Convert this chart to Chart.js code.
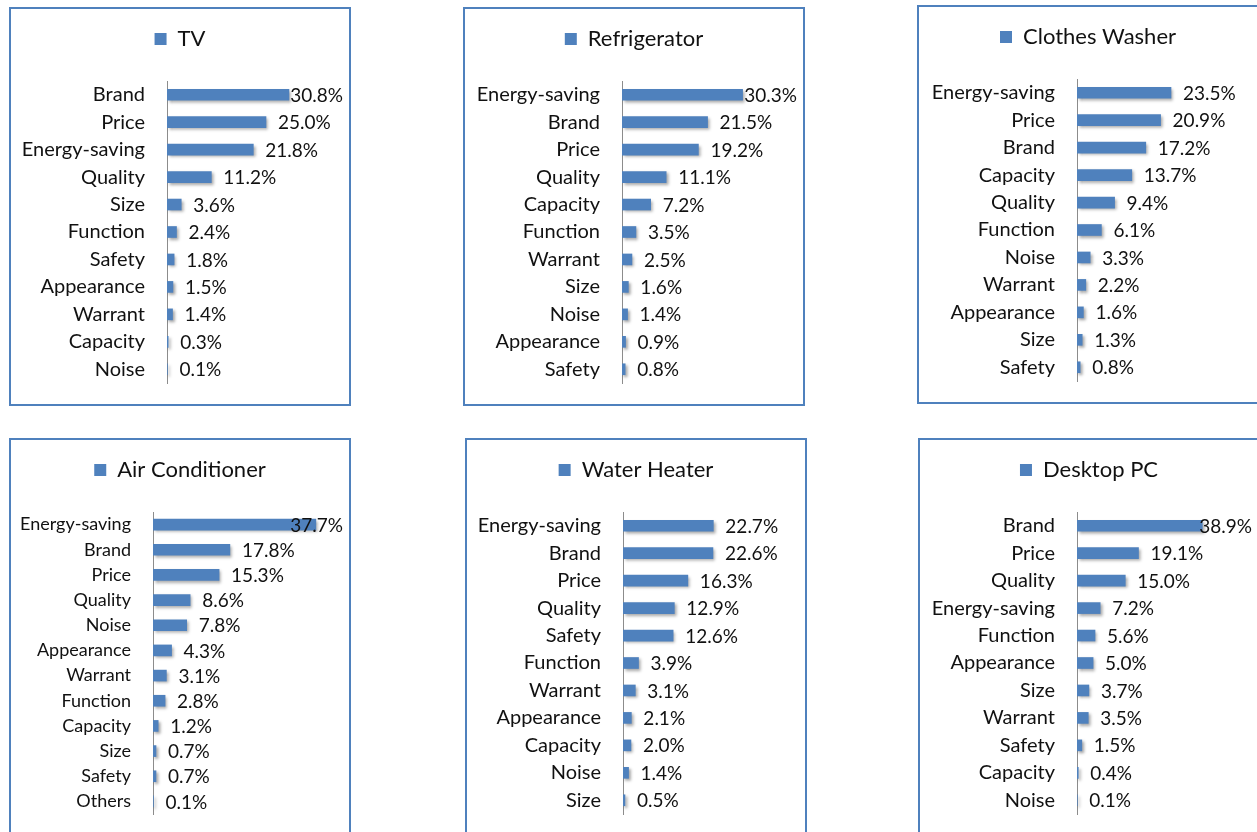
<!DOCTYPE html>
<html>
<head>
<meta charset="utf-8">
<script src="https://cdn.jsdelivr.net/npm/chart.js@4.4.1/dist/chart.umd.min.js"></script>
<style>
  body { margin: 0; background: #fff; width: 1257px; height: 832px; overflow: hidden; position: relative; }
  .panel { position: absolute; width: 342px; height: 399px; }
  .panel canvas { position: absolute; left: 0; top: 0; }
  .frame { position: absolute; left: 0; top: 0; width: 342px; height: 399px; box-sizing: border-box;
           border: 2px solid #4f81bd; pointer-events: none; }
</style>
</head>
<body>
<script>
// survey shares (%) per appliance, top to bottom as shown
const tvLabels = ['Brand', 'Price', 'Energy-saving', 'Quality', 'Size', 'Function', 'Safety', 'Appearance', 'Warrant', 'Capacity', 'Noise'];
const tvValues = [30.8, 25.0, 21.8, 11.2, 3.6, 2.4, 1.8, 1.5, 1.4, 0.3, 0.1];

const fridgeLabels = ['Energy-saving', 'Brand', 'Price', 'Quality', 'Capacity', 'Function', 'Warrant', 'Size', 'Noise', 'Appearance', 'Safety'];
const fridgeValues = [30.3, 21.5, 19.2, 11.1, 7.2, 3.5, 2.5, 1.6, 1.4, 0.9, 0.8];

const washerLabels = ['Energy-saving', 'Price', 'Brand', 'Capacity', 'Quality', 'Function', 'Noise', 'Warrant', 'Appearance', 'Size', 'Safety'];
const washerValues = [23.5, 20.9, 17.2, 13.7, 9.4, 6.1, 3.3, 2.2, 1.6, 1.3, 0.8];

const acLabels = ['Energy-saving', 'Brand', 'Price', 'Quality', 'Noise', 'Appearance', 'Warrant', 'Function', 'Capacity', 'Size', 'Safety', 'Others'];
const acValues = [37.7, 17.8, 15.3, 8.6, 7.8, 4.3, 3.1, 2.8, 1.2, 0.7, 0.7, 0.1];

const heaterLabels = ['Energy-saving', 'Brand', 'Price', 'Quality', 'Safety', 'Function', 'Warrant', 'Appearance', 'Capacity', 'Noise', 'Size'];
const heaterValues = [22.7, 22.6, 16.3, 12.9, 12.6, 3.9, 3.1, 2.1, 2.0, 1.4, 0.5];

const pcLabels = ['Brand', 'Price', 'Quality', 'Energy-saving', 'Function', 'Appearance', 'Size', 'Warrant', 'Safety', 'Capacity', 'Noise'];
const pcValues = [38.9, 19.1, 15.0, 7.2, 5.6, 5.0, 3.7, 3.5, 1.5, 0.4, 0.1];

const BLUE = '#4f81bd';
const INK = '#111';
const W = 342, H = 399;

// where each panel sits and how wide 1% is in it
const panels = [
  { name: 'TV',              labels: tvLabels,     values: tvValues,     left: 9,   top: 7,   axisX: 158, pxPer: 3.96, catSize: 20 },
  { name: 'Refrigerator',    labels: fridgeLabels, values: fridgeValues, left: 463, top: 7,   axisX: 159, pxPer: 3.98, catSize: 20 },
  { name: 'Clothes Washer',  labels: washerLabels, values: washerValues, left: 917, top: 5,   axisX: 160, pxPer: 4.0,  catSize: 20 },
  { name: 'Air Conditioner', labels: acLabels,     values: acValues,     left: 9,   top: 438, axisX: 144, pxPer: 4.32, catSize: 18 },
  { name: 'Water Heater',    labels: heaterLabels, values: heaterValues, left: 465, top: 438, axisX: 158, pxPer: 3.98, catSize: 20 },
  { name: 'Desktop PC',      labels: pcLabels,     values: pcValues,     left: 918, top: 438, axisX: 159, pxPer: 3.22, catSize: 20 }
];

// extra room under the legend, like the Excel charts
const legendGap = {
  id: 'legendGap',
  beforeLayout(chart) {
    const lg = chart.legend;
    if (lg && !lg.gapPatched) {
      const fit = lg.fit;
      lg.fit = function () { fit.call(this); this.height += 21; };
      lg.gapPatched = true;
    }
  }
};

// soft drop shadow on the bars
const barShadow = {
  id: 'barShadow',
  beforeDatasetsDraw(chart) {
    const c = chart.ctx;
    c.save();
    c.shadowColor = 'rgba(0,0,0,0.35)';
    c.shadowOffsetX = 2;
    c.shadowOffsetY = 2;
    c.shadowBlur = 3;
  },
  afterDatasetsDraw(chart) { chart.ctx.restore(); }
};

// value labels at the bar ends, kept inside the frame
const valueLabels = {
  id: 'valueLabels',
  afterDraw(chart) {
    const c = chart.ctx;
    const meta = chart.getDatasetMeta(0);
    const vals = chart.data.datasets[0].data;
    const limit = chart.width - 8;
    c.save();
    c.font = '19px Lato';
    c.fillStyle = INK;
    c.textBaseline = 'middle';
    c.textAlign = 'left';
    meta.data.forEach((bar, i) => {
      const txt = vals[i].toFixed(1) + '%';
      const w = c.measureText(txt).width;
      c.fillText(txt, Math.min(bar.x + 12, limit - w), bar.y + 1);
    });
    c.restore();
  }
};

panels.forEach(p => {
  const box = document.createElement('div');
  box.className = 'panel';
  box.style.left = p.left + 'px';
  box.style.top = p.top + 'px';
  const canvas = document.createElement('canvas');
  canvas.width = W;
  canvas.height = H;
  box.appendChild(canvas);
  const frame = document.createElement('div');
  frame.className = 'frame';
  box.appendChild(frame);
  document.body.appendChild(box);

  new Chart(canvas, {
    type: 'bar',
    data: {
      labels: p.labels,
      datasets: [{
        label: p.name,
        data: p.values,
        backgroundColor: BLUE,
        borderWidth: 0,
        barThickness: 11
      }]
    },
    options: {
      indexAxis: 'y',
      responsive: false,
      animation: false,
      layout: { padding: { top: 11, bottom: 23, left: 0, right: 0 } },
      scales: {
        x: { display: false, min: 0, max: (W - p.axisX) / p.pxPer },
        y: {
          grid: { display: false, drawTicks: false },
          border: { display: true, color: '#8c8c8c', width: 1 },
          ticks: { color: INK, font: { family: 'Lato', size: p.catSize }, padding: 22, autoSkip: false },
          afterFit(scale) {
            scale.width = p.axisX;
            scale.paddingTop = 0;
            scale.paddingBottom = 0;
          }
        }
      },
      plugins: {
        legend: {
          position: 'top',
          labels: { boxWidth: 12, boxHeight: 12, padding: 10, color: INK, font: { family: 'Lato', size: 22 } }
        },
        tooltip: { enabled: false }
      }
    },
    plugins: [legendGap, barShadow, valueLabels]
  });
});
</script>
</body>
</html>
